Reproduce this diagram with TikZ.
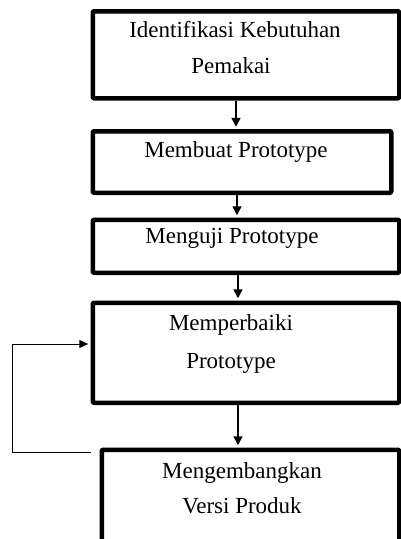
\documentclass[tikz,border=0pt]{standalone}
\usepackage{fontspec}
\setmainfont{Liberation Serif}
\usetikzlibrary{arrows.meta}
\begin{document}
\begin{tikzpicture}[x=1pt,y=-1pt,
  box/.style={draw=black,line width=4.5pt,line join=round,rounded corners=1pt,rectangle,inner sep=0pt},
  txt/.style={anchor=base,inner sep=0pt,font=\fontsize{23}{27}\selectfont},
  arr/.style={line width=1.5pt,-{Triangle[length=9pt,width=9pt]}},
  fbarr/.style={line width=1pt,-{Triangle[length=9pt,width=8pt]}}]
\useasboundingbox (0,0) rectangle (400,539);
% boxes
\node[box,minimum width=306.5pt,minimum height=87pt,anchor=north west] (b1) at (90.5,9) {};
\node[box,minimum width=298.5pt,minimum height=61.5pt,anchor=north west] (b2) at (90.5,129) {};
\node[box,minimum width=306.5pt,minimum height=53pt,anchor=north west] (b3) at (90.5,217.5) {};
\node[box,minimum width=306.5pt,minimum height=100pt,anchor=north west] (b4) at (90.5,300.5) {};
\node[box,minimum width=297.5pt,minimum height=92.5pt,anchor=north west] (b5) at (99.5,447.5) {};
% texts
\node[txt] (t1a) at (235,37) {Identifikasi Kebutuhan};
\node[txt] (t1b) at (231,73) {Pemakai};
\node[txt] (t2) at (236,157) {Membuat Prototype};
\node[txt] (t3) at (232,243) {Menguji Prototype};
\node[txt] (t4a) at (231,330) {Memperbaiki};
\node[txt] (t4b) at (231,368) {Prototype};
\node[txt] (t5a) at (242,478) {Mengembangkan};
\node[txt] (t5b) at (242,513) {Versi Produk};
% arrows
\draw[arr,shorten >=2.25pt] (b1.south -| 236,0) -- (b2.north -| 236,0);
\draw[arr,shorten >=2.25pt] (b2.south -| 237,0) -- (b3.north -| 237,0);
\draw[arr,shorten >=2.25pt] (b3.south -| 238,0) -- (b4.north -| 238,0);
\draw[arr,shorten >=2.25pt] (b4.south -| 238,0) -- (b5.north -| 238,0);
% feedback loop
\coordinate (fb) at (91,452);
\coordinate (c1) at (12,452);
\coordinate (c2) at (12,344);
\draw[fbarr,shorten >=2.25pt] (fb) -- (c1) -- (c2) -- (b4.west |- c2);
\end{tikzpicture}
\end{document}
